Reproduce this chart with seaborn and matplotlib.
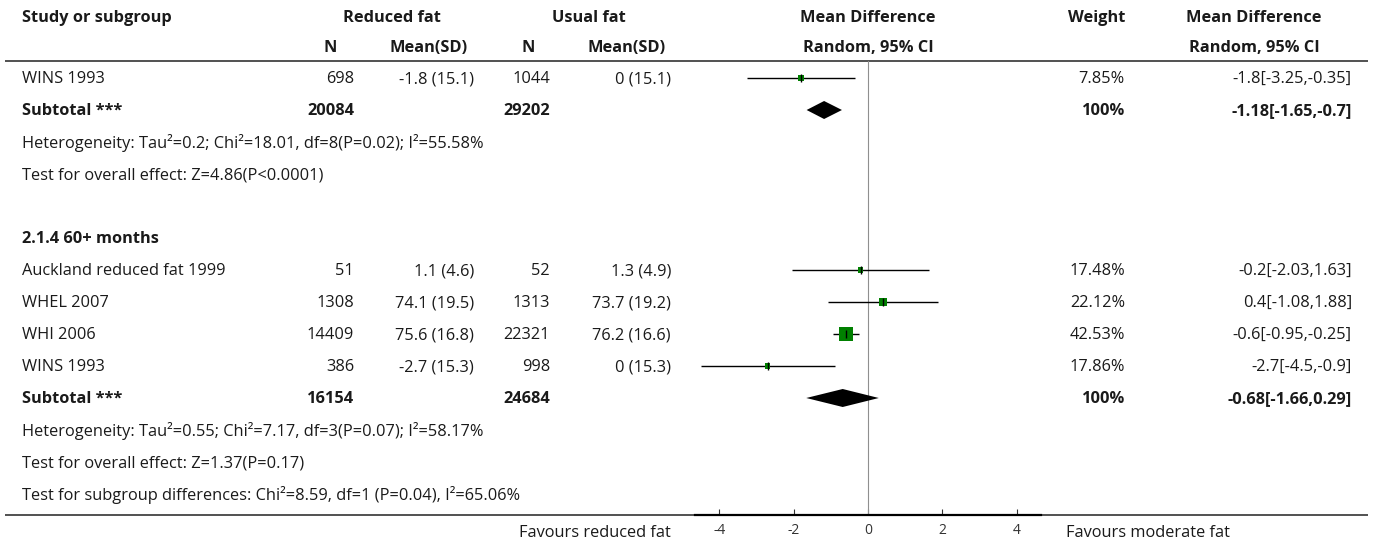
import matplotlib
matplotlib.use("Agg")
import matplotlib.pyplot as plt
import numpy as np
import pandas as pd
import seaborn as sns

# ---- subgroup 1 (tail of the 2.1.3 block) ----
g1_study = ["WINS 1993"]
g1_n_red = [698]
g1_mean_red = [-1.8]
g1_sd_red = [15.1]
g1_n_usual = [1044]
g1_mean_usual = [0]
g1_sd_usual = [15.1]
g1_weight = [7.85]
g1_md = [-1.8]
g1_lo = [-3.25]
g1_hi = [-0.35]
g1_tot_red = 20084
g1_tot_usual = 29202
g1_sub = [-1.18, -1.65, -0.7]
g1_het = "Heterogeneity: Tau\u00b2=0.2; Chi\u00b2=18.01, df=8(P=0.02); I\u00b2=55.58%"
g1_test = "Test for overall effect: Z=4.86(P<0.0001)"

# ---- subgroup 2.1.4 60+ months ----
g2_title = "2.1.4 60+ months"
g2_study = ["Auckland reduced fat 1999", "WHEL 2007", "WHI 2006", "WINS 1993"]
g2_n_red = [51, 1308, 14409, 386]
g2_mean_red = [1.1, 74.1, 75.6, -2.7]
g2_sd_red = [4.6, 19.5, 16.8, 15.3]
g2_n_usual = [52, 1313, 22321, 998]
g2_mean_usual = [1.3, 73.7, 76.2, 0]
g2_sd_usual = [4.9, 19.2, 16.6, 15.3]
g2_weight = [17.48, 22.12, 42.53, 17.86]
g2_md = [-0.2, 0.4, -0.6, -2.7]
g2_lo = [-2.03, -1.08, -0.95, -4.5]
g2_hi = [1.63, 1.88, -0.25, -0.9]
g2_tot_red = 16154
g2_tot_usual = 24684
g2_sub = [-0.68, -1.66, 0.29]
g2_het = "Heterogeneity: Tau\u00b2=0.55; Chi\u00b2=7.17, df=3(P=0.07); I\u00b2=58.17%"
g2_test = "Test for overall effect: Z=1.37(P=0.17)"
subgroup_diff = "Test for subgroup differences: Chi\u00b2=8.59, df=1 (P=0.04), I\u00b2=65.06%"

x_ticks = [-4, -2, 0, 2, 4]
left_label = "Favours reduced fat"
right_label = "Favours moderate fat"

# ---------------------------------------------------------------
sns.set_theme(style="white")
plt.rcParams["font.family"] = ["Open Sans", "DejaVu Sans"]
plt.rcParams["axes.unicode_minus"] = False

W, H, DPI = 1375, 545, 100
fig = plt.figure(figsize=(W / DPI, H / DPI), dpi=DPI)

# table layer in pixel coordinates
tab = fig.add_axes([0, 0, 1, 1])
tab.set_xlim(0, W)
tab.set_ylim(H, 0)
tab.axis("off")

FS = 11.8
TXT = "#1a1a1a"


def put(x, y, s, ha="left", bold=False, size=FS):
    tab.text(x, y + 1, s, ha=ha, va="center", fontsize=size,
             fontweight="bold" if bold else "normal", color=TXT)


ROW0, ROWH = 78, 32


def ry(r):
    return ROW0 + ROWH * r


# column anchors
X_STUDY = 22
X_NR, X_MR, X_NU, X_MU = 354, 474, 550, 671
X_W, X_CI = 1125, 1352
X_PLOT_L, X_PLOT_R = 695, 1041
X_PLOT_C = (X_PLOT_L + X_PLOT_R) / 2

# header
put(X_STUDY, 17, "Study or subgroup", bold=True)
put(392, 17, "Reduced fat", ha="center", bold=True)
put(589, 17, "Usual fat", ha="center", bold=True)
put(X_PLOT_C, 17, "Mean Difference", ha="center", bold=True)
put(X_W, 17, "Weight", ha="right", bold=True)
put(1254, 17, "Mean Difference", ha="center", bold=True)
put(330, 47, "N", ha="center", bold=True)
put(429, 47, "Mean(SD)", ha="center", bold=True)
put(528, 47, "N", ha="center", bold=True)
put(627, 47, "Mean(SD)", ha="center", bold=True)
put(X_PLOT_C, 47, "Random, 95% CI", ha="center", bold=True)
put(1254, 47, "Random, 95% CI", ha="center", bold=True)

tab.plot([5, 1368], [61, 61], color="#222222", lw=1.1, solid_capstyle="butt")
tab.plot([5, 1368], [515, 515], color="#222222", lw=1.1, solid_capstyle="butt")


def fmt(v):
    return f"{v:g}"


def study_rows(r0, names, nr, mr, sr, nu, mu, su, w, md, lo, hi):
    for i, name in enumerate(names):
        y = ry(r0 + i)
        put(X_STUDY, y, name)
        put(X_NR, y, str(nr[i]), ha="right")
        put(X_MR, y, f"{fmt(mr[i])} ({fmt(sr[i])})", ha="right")
        put(X_NU, y, str(nu[i]), ha="right")
        put(X_MU, y, f"{fmt(mu[i])} ({fmt(su[i])})", ha="right")
        put(X_W, y, f"{w[i]:.2f}%", ha="right")
        put(X_CI, y, f"{fmt(md[i])}[{fmt(lo[i])},{fmt(hi[i])}]", ha="right")


def subtotal_row(r, tr, tu, sub):
    y = ry(r)
    put(X_STUDY, y, "Subtotal ***", bold=True)
    put(X_NR, y, str(tr), ha="right", bold=True)
    put(X_NU, y, str(tu), ha="right", bold=True)
    put(X_W, y, "100%", ha="right", bold=True)
    put(X_CI, y, f"{fmt(sub[0])}[{fmt(sub[1])},{fmt(sub[2])}]", ha="right", bold=True)


study_rows(0, g1_study, g1_n_red, g1_mean_red, g1_sd_red, g1_n_usual,
           g1_mean_usual, g1_sd_usual, g1_weight, g1_md, g1_lo, g1_hi)
subtotal_row(1, g1_tot_red, g1_tot_usual, g1_sub)
put(X_STUDY, ry(2), g1_het)
put(X_STUDY, ry(3), g1_test)

put(X_STUDY, ry(5), g2_title, bold=True)
study_rows(6, g2_study, g2_n_red, g2_mean_red, g2_sd_red, g2_n_usual,
           g2_mean_usual, g2_sd_usual, g2_weight, g2_md, g2_lo, g2_hi)
subtotal_row(10, g2_tot_red, g2_tot_usual, g2_sub)
put(X_STUDY, ry(11), g2_het)
put(X_STUDY, ry(12), g2_test)
put(X_STUDY, ry(13), subgroup_diff)

put(671, 532, left_label, ha="right")
put(1066, 532, right_label)

# ---- forest panel ----
top_px, bot_px = 61, 515
fx = fig.add_axes([X_PLOT_L / W, 1 - bot_px / H,
                   (X_PLOT_R - X_PLOT_L) / W, (bot_px - top_px) / H])
fx.patch.set_alpha(0)

df = pd.DataFrame({
    "row": [0] + [6, 7, 8, 9],
    "md": g1_md + g2_md,
    "lo": g1_lo + g2_lo,
    "hi": g1_hi + g2_hi,
    "weight": g1_weight + g2_weight,
})
side_px = np.maximum(5.5, 0.33 * df["weight"].to_numpy())
df["area"] = (side_px * 72 / DPI) ** 2

fx.axvline(0, color="#8f8f8f", lw=0.8, zorder=1)
fx.hlines(df["row"], df["lo"], df["hi"], color="black", lw=1.0, zorder=2)
amin, amax = df["area"].min(), df["area"].max()
sns.scatterplot(data=df, x="md", y="row", size="area", sizes=(amin, amax),
                size_norm=(amin, amax), marker="s", color="#008000",
                edgecolor="none", linewidth=0, legend=False, ax=fx, zorder=3)
fx.scatter(df["md"], df["row"], marker="|", s=(8 * 72 / DPI) ** 2,
           color="black", linewidths=1.0, zorder=4)

half = 9 / ROWH
for r, (m, lo, hi) in [(1, g1_sub), (10, g2_sub)]:
    fx.fill([lo, m, hi, m], [r, r - half, r, r + half], color="black",
            lw=0, zorder=3)

fx.set_xlim(-4.65, 4.65)
fx.set_ylim((bot_px - ROW0) / ROWH, (top_px - ROW0) / ROWH)
fx.set_xticks(x_ticks)
fx.set_xticklabels([str(t) for t in x_ticks])
fx.set_yticks([])
fx.set_xlabel("")
fx.set_ylabel("")
for s in ("left", "right", "top"):
    fx.spines[s].set_visible(False)
fx.spines["bottom"].set_color("black")
fx.spines["bottom"].set_linewidth(1.6)
fx.tick_params(axis="x", direction="in", length=4.3, width=0.8,
               colors="#333333", labelsize=10, pad=6, bottom=True)

fig.savefig("out.png", dpi=DPI)
